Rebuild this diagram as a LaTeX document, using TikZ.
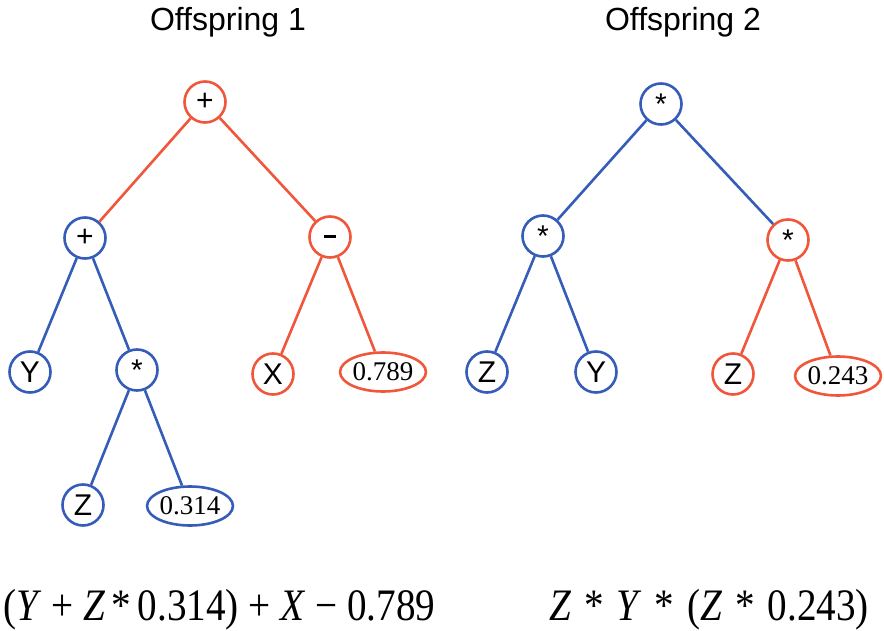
\documentclass[tikz,border=0pt]{standalone}
\usepackage{fontspec}
\setmainfont{Liberation Serif}
\newfontfamily\lsans{Liberation Sans}
\usetikzlibrary{shapes.geometric}
\definecolor{tblue}{RGB}{52,92,184}
\definecolor{tred}{RGB}{240,86,58}
\tikzset{
  opnode/.style={circle,draw,line width=2.6pt,minimum size=41pt,inner sep=0pt,text=black,font=\lsans\fontsize{30}{32}\selectfont},
  numnode/.style={ellipse,draw,line width=2.6pt,minimum width=85pt,minimum height=39pt,inner sep=0pt,text=black,font=\fontsize{27}{29}\selectfont},
  bl/.style={draw=tblue},
  rd/.style={draw=tred},
  edge/.style={line width=2.6pt},
  title/.style={font=\lsans\fontsize{32}{34}\selectfont},
  formula/.style={font=\fontsize{45}{48}\selectfont,anchor=base west,xscale=0.87}
}
\begin{document}
\begin{tikzpicture}[x=1pt,y=-1pt]
\useasboundingbox (0,0) rectangle (884,631);
\node[title] (t1) at (228,22) {Offspring 1};
\node[title] (t2) at (683,22) {Offspring 2};
% tree 1
\node[opnode,rd] (r1) at (205,102) {+};
\node[opnode,bl] (p1) at (85,238) {+};
\node[opnode,rd] (m1) at (330,237) {\raisebox{1pt}{\rule{12pt}{2.8pt}}};
\node[opnode,bl] (y1) at (30,372) {Y};
\node[opnode,bl] (s1) at (137,370) {*};
\node[opnode,rd] (x1) at (273,374) {X};
\node[numnode,rd] (n1) at (383,372) {0.789};
\node[opnode,bl] (z1) at (83,505) {Z};
\node[numnode,bl] (n2) at (190,506) {0.314};
\draw[edge,tred] (r1) -- (p1);
\draw[edge,tred] (r1) -- (m1);
\draw[edge,tblue] (p1) -- (y1);
\draw[edge,tblue] (p1) -- (s1);
\draw[edge,tred] (m1) -- (x1);
\draw[edge,tred] (m1) -- (n1);
\draw[edge,tblue] (s1) -- (z1);
\draw[edge,tblue] (s1) -- (n2);
% tree 2
\node[opnode,bl] (r2) at (661,104) {*};
\node[opnode,bl] (a2) at (543,236) {*};
\node[opnode,rd] (b2) at (788,240) {*};
\node[opnode,bl] (z2) at (487,372) {Z};
\node[opnode,bl] (y2) at (596,372) {Y};
\node[opnode,rd] (z3) at (733,374) {Z};
\node[numnode,rd] (n3) at (838,376) {0.243};
\draw[edge,tblue] (r2) -- (a2);
\draw[edge,tblue] (r2) -- (b2);
\draw[edge,tblue] (a2) -- (z2);
\draw[edge,tblue] (a2) -- (y2);
\draw[edge,tred] (b2) -- (z3);
\draw[edge,tred] (b2) -- (n3);
% formulas
\node[formula] (f1) at (0,620) {(\textit{Y} + \textit{Z}\,*\,0.314) + \textit{X} − 0.789};
\node[formula] (f2) at (546,620) {\textit{Z}\hspace{0.33em}*\hspace{0.33em}\textit{Y}\hspace{0.33em}*\hspace{0.33em}(\textit{Z}\hspace{0.33em}*\hspace{0.33em}0.243)};
\end{tikzpicture}
\end{document}
